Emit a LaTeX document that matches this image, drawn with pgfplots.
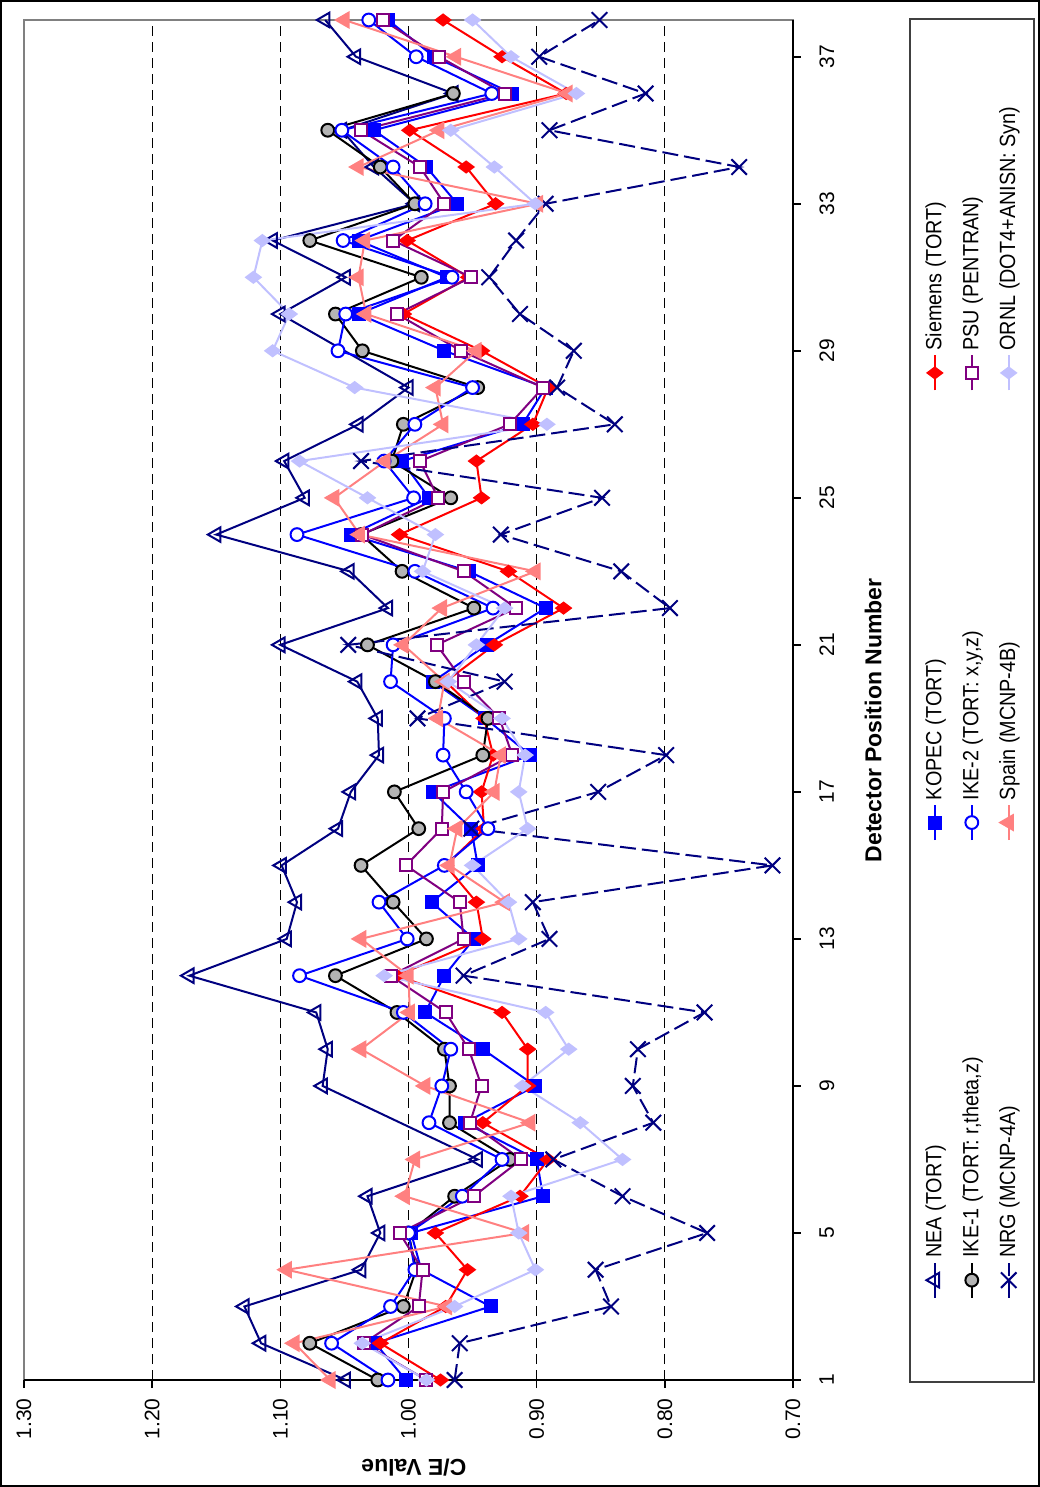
\documentclass[border=0pt]{standalone}
\usepackage{graphicx}
\usepackage{pgfplots}
\pgfplotsset{compat=1.18}
\usepackage{pgfplotstable}
\usepackage{fontspec}
\setmainfont{Liberation Sans}
\newfontfamily\legfont[FakeStretch=0.9]{Liberation Sans}
\definecolor{navy}{RGB}{0,0,128}
\definecolor{kblue}{RGB}{0,0,255}
\definecolor{ikegray}{RGB}{180,180,180}
\definecolor{spainpink}{RGB}{255,128,128}
\definecolor{siemred}{RGB}{255,0,0}
\definecolor{psupurple}{RGB}{128,0,128}
\definecolor{ornllight}{RGB}{192,192,255}
\definecolor{bordergray}{RGB}{128,128,128}

\pgfplotstableread{
pos nea kopec siem ike1 ike2 psu nrg spain ornl
1 1.049 1.002 0.975 1.024 1.016 0.986 0.964 1.061 0.986
2 1.115 1.026 1.022 1.077 1.060 1.035 0.960 1.089 1.036
3 1.128 0.936 0.971 1.004 1.014 0.992 0.842 0.970 0.964
4 1.037 0.990 0.954 0.994 0.995 0.989 0.854 1.095 0.901
5 1.022 0.998 0.979 1.000 1.000 1.007 0.767 0.910 0.914
6 1.032 0.895 0.913 0.964 0.958 0.949 0.833 1.003 0.920
7 0.946 0.900 0.891 0.921 0.927 0.912 0.887 0.995 0.833
8 nan 0.956 0.942 0.968 0.984 0.952 0.809 0.905 0.866
9 1.067 0.901 0.907 0.968 0.974 0.943 0.825 0.987 0.911
10 1.063 0.942 0.907 0.972 0.967 0.953 0.821 1.037 0.875
11 1.072 0.987 0.927 1.009 1.004 0.971 0.769 0.999 0.893
12 1.171 0.972 1.009 1.057 1.085 1.014 0.957 1.000 1.019
13 1.095 0.949 0.942 0.986 1.001 0.957 0.890 1.037 0.914
14 1.087 0.982 0.947 1.012 1.023 0.960 0.903 0.925 0.922
15 1.099 0.946 0.971 1.037 0.972 1.002 0.716 0.968 0.950
16 1.055 0.951 0.941 0.992 0.938 0.974 0.951 0.962 0.907
17 1.045 0.981 0.943 1.011 0.955 0.973 0.852 0.933 0.914
18 1.023 0.905 0.934 0.942 0.973 0.919 0.799 0.928 0.909
19 1.024 0.940 0.941 0.938 0.972 0.929 0.993 0.977 0.927
20 1.040 0.981 0.971 0.979 1.014 0.957 0.925 0.972 0.969
21 1.100 0.939 0.933 1.032 1.012 0.978 1.047 1.004 0.947
22 1.016 0.893 0.879 0.949 0.934 0.916 0.796 0.974 0.925
23 1.046 0.953 0.922 1.005 0.995 0.957 0.834 0.901 0.989
24 1.150 1.045 1.007 1.037 1.087 1.036 0.928 1.038 0.979
25 1.081 0.984 0.943 0.967 0.996 0.977 0.849 1.058 1.032
26 1.097 1.005 0.947 1.013 1.019 0.991 1.037 1.018 1.085
27 1.039 0.911 0.903 1.004 0.995 0.921 0.839 0.973 0.892
28 1.000 0.893 0.891 0.946 0.950 0.895 0.884 0.979 1.042
29 nan 0.972 0.943 1.036 1.055 0.959 0.871 0.947 1.106
30 1.100 1.039 1.004 1.057 1.049 1.009 0.913 1.033 1.093
31 1.049 0.970 0.953 0.990 0.966 0.951 0.937 1.039 1.121
32 1.106 1.039 1.001 1.077 1.051 1.012 0.916 1.034 1.114
33 0.995 0.962 0.932 0.995 0.987 0.972 0.893 0.899 0.901
34 1.027 0.986 0.955 1.022 1.012 0.991 0.742 1.039 0.933
35 1.052 1.027 0.999 1.063 1.052 1.037 0.890 0.976 0.967
36 0.965 0.919 0.877 0.965 0.935 0.925 0.815 0.876 0.869
37 1.041 0.980 0.927 nan 0.994 0.976 0.898 0.963 0.920
38 1.065 1.016 0.973 nan 1.031 1.020 0.851 1.050 0.950
}\data

\begin{document}
\rotatebox{90}{%
\begin{tikzpicture}
\begin{axis}[
  name=ax, at={(0,0)}, anchor=south west,
  scale only axis, width=680pt, height=384.5pt,
  xmin=1, xmax=38, ymin=0.70, ymax=1.30,
  axis background/.style={draw=bordergray, line width=1pt},
  axis x line*=bottom, axis y line*=left,
  axis line style={black, line width=0.8pt, -},
  xtick={1,5,9,13,17,21,25,29,33,37},
  xticklabels={1,5,9,13,17,21,25,29,33,37},
  ytick={0.7,0.8,0.9,1.0,1.1,1.2,1.3},
  yticklabels={0.70,0.80,0.90,1.00,1.10,1.20,1.30},
  tick align=outside, major tick length=4pt,
  tick style={black, line width=0.8pt},
  xticklabel style={anchor=north, inner sep=0pt, font=\fontsize{10.5}{12}\selectfont},
  yticklabel style={anchor=east, inner sep=0pt, font=\fontsize{10.5}{12}\selectfont},
  xticklabel shift=9pt, yticklabel shift=5pt,
  extra y ticks={0.8,0.9,1.0,1.1,1.2},
  extra y tick labels={},
  extra y tick style={grid=major, major tick length=0pt},
  grid style={black, line width=0.5pt, dash pattern=on 5pt off 3pt},
  xlabel={Detector Position Number}, ylabel={C/E Value},
  every axis x label/.style={at={(ticklabel cs:0.485,15pt)}, anchor=north, inner sep=0pt, font=\bfseries\fontsize{11.5}{13}\selectfont},
  every axis y label/.style={at={(ticklabel cs:0.493,-4.2pt)}, rotate=90, anchor=south, inner sep=0pt, font=\bfseries\fontsize{11.5}{13}\selectfont},
  clip=false,
  legend columns=3,
  legend cell align=left,
  legend style={
    at={(axis description cs:0,0)}, anchor=north west,
    xshift=-1.5pt, yshift=-58pt,
    draw=black!75, line width=0.8pt, fill=white,
    minimum width=681.5pt, minimum height=62pt, inner ysep=5pt,
    nodes={minimum width=0pt, minimum height=0pt, inner sep=2pt},
    font=\legfont\fontsize{11}{13}\selectfont,
    row sep=5pt,
    /tikz/column 2/.style={column sep=106pt},
    /tikz/column 4/.style={column sep=117.6pt},
  },
  legend image code/.code={\draw[mark repeat=2,mark phase=2,#1] plot coordinates {(0pt,0pt) (8.75pt,0pt) (17.5pt,0pt)};},
]
\addplot[navy, line width=1pt, mark=triangle, mark size=4.2pt, mark options={fill=white, solid}] table[x=pos, y=nea]{\data};
\addlegendentry{NEA (TORT)}
\addplot[kblue, line width=1pt, mark=square*, mark size=3pt, mark options={solid}] table[x=pos, y=kopec]{\data};
\addlegendentry{KOPEC (TORT)}
\addplot[siemred, line width=1pt, mark=diamond*, mark size=3.6pt, mark options={solid}] table[x=pos, y=siem]{\data};
\addlegendentry{Siemens (TORT)}
\addplot[black, line width=1pt, mark=*, mark size=3.2pt, mark options={solid, fill=ikegray, draw=black}] table[x=pos, y=ike1]{\data};
\addlegendentry{IKE-1 (TORT: r,theta,z)}
\addplot[kblue, line width=1pt, mark=*, mark size=3.2pt, mark options={solid, fill=white, draw=kblue}] table[x=pos, y=ike2]{\data};
\addlegendentry{IKE-2 (TORT: x,y,z)}
\addplot[psupurple, line width=1pt, mark=square*, mark size=3pt, mark options={solid, fill=white, draw=psupurple}] table[x=pos, y=psu]{\data};
\addlegendentry{PSU (PENTRAN)}
\addplot[navy, line width=1pt, dash pattern=on 8pt off 3pt, mark=x, mark size=5.5pt, mark options={solid}] table[x=pos, y=nrg]{\data};
\addlegendentry{NRG (MCNP-4A)}
\addplot[spainpink, line width=1pt, mark=triangle*, mark size=4.2pt, mark options={solid}] table[x=pos, y=spain]{\data};
\addlegendentry{Spain (MCNP-4B)}
\addplot[ornllight, line width=1pt, mark=diamond*, mark size=3.6pt, mark options={solid}] table[x=pos, y=ornl]{\data};
\addlegendentry{ORNL (DOT4+ANISN: Syn)}
\end{axis}
\draw[black, line width=1pt] ([xshift=-53pt,yshift=-123pt]ax.south west) rectangle ([xshift=9.5pt,yshift=11.5pt]ax.north east);
\end{tikzpicture}%
}
\end{document}
